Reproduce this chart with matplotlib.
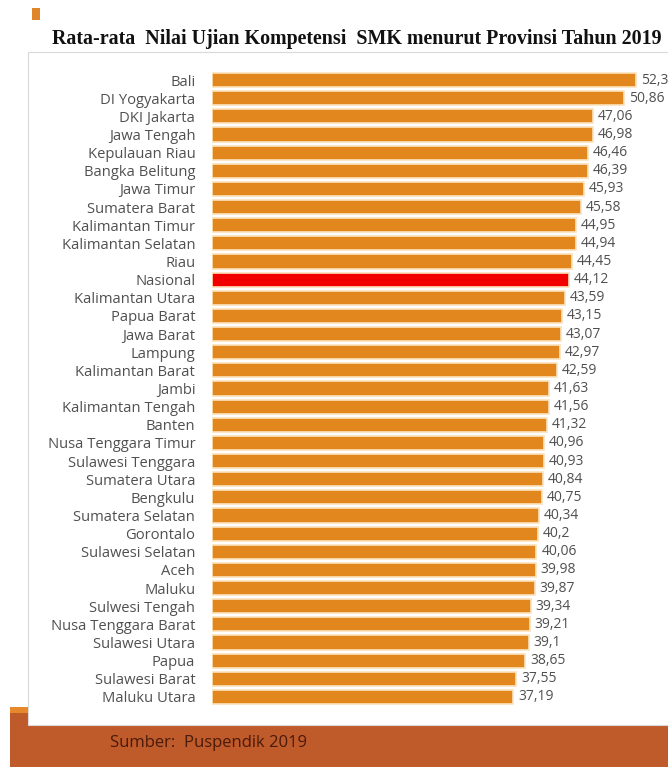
import matplotlib
matplotlib.use("Agg")
import matplotlib.pyplot as plt
from matplotlib.patches import Rectangle

provinces = ["Bali", "DI Yogyakarta", "DKI Jakarta", "Jawa Tengah", "Kepulauan Riau",
             "Bangka Belitung", "Jawa Timur", "Sumatera Barat", "Kalimantan Timur",
             "Kalimantan Selatan", "Riau", "Nasional", "Kalimantan Utara", "Papua Barat",
             "Jawa Barat", "Lampung", "Kalimantan Barat", "Jambi", "Kalimantan Tengah",
             "Banten", "Nusa Tenggara Timur", "Sulawesi Tenggara", "Sumatera Utara",
             "Bengkulu", "Sumatera Selatan", "Gorontalo", "Sulawesi Selatan", "Aceh",
             "Maluku", "Sulwesi Tengah", "Nusa Tenggara Barat", "Sulawesi Utara", "Papua",
             "Sulawesi Barat", "Maluku Utara"]
scores = [52.35, 50.86, 47.06, 46.98, 46.46, 46.39, 45.93, 45.58, 44.95, 44.94, 44.45,
          44.12, 43.59, 43.15, 43.07, 42.97, 42.59, 41.63, 41.56, 41.32, 40.96, 40.93,
          40.84, 40.75, 40.34, 40.2, 40.06, 39.98, 39.87, 39.34, 39.21, 39.1, 38.65,
          37.55, 37.19]
highlight = "Nasional"
title = "Rata-rata  Nilai Ujian Kompetensi  SMK menurut Provinsi Tahun 2019"
source = "Sumber:  Puspendik 2019"

W, H = 668, 767
fig = plt.figure(figsize=(W / 100, H / 100), dpi=100)
fig.patch.set_facecolor("white")

def fx(px):
    return px / W

def fy(py):
    return 1 - py / H

# bottom band
fig.patches.append(Rectangle((fx(10), 0), 1, fy(707), transform=fig.transFigure,
                             facecolor="#BF5A2B", edgecolor="none", zorder=0))
fig.patches.append(Rectangle((fx(10), fy(713)), 1, fy(707) - fy(713), transform=fig.transFigure,
                             facecolor="#E8882C", edgecolor="none", zorder=0))
# white panel
fig.patches.append(Rectangle((fx(28), fy(725)), 1, fy(52) - fy(725), transform=fig.transFigure,
                             facecolor="white", edgecolor="#D9D9D9", linewidth=0.8, zorder=1))
# small square
fig.patches.append(Rectangle((fx(32), fy(20)), fx(8), fy(8) - fy(20), transform=fig.transFigure,
                             facecolor="#E0862A", edgecolor="none", zorder=1))

fig.text(fx(357), fy(39), title, ha="center", va="center", fontsize=14.4,
         fontweight="bold", family="Liberation Serif", color="#111111", zorder=3)
fig.text(fx(110), fy(743), source, ha="left", va="center", fontsize=12,
         family="Open Sans", fontweight="medium", color="#4A1A0A", zorder=3)

x0 = 212
ppu = 8.1
top_c, bot_c = 80, 697
step = (bot_c - top_c) / (len(provinces) - 1)
ax_top = top_c - step / 2
ax_bot = bot_c + step / 2
ax = fig.add_axes([fx(x0), fy(ax_bot), 1 - fx(x0), fy(ax_top) - fy(ax_bot)], zorder=2)
ax.patch.set_alpha(0)
ax.set_xlim(0, (W - x0) / ppu)
ax.set_ylim(len(provinces) - 0.5, -0.5)

ypos = list(range(len(provinces)))
colors = ["#F00000" if p == highlight else "#E2861E" for p in provinces]
ax.barh(ypos, scores, height=0.78, color=colors, edgecolor="#FBE3BC", linewidth=1.2)
for y, v in zip(ypos, scores):
    ax.text(v + 0.6, y, f"{v:g}".replace(".", ","), ha="left", va="center",
            fontsize=10, family="Open Sans", color="#505050", clip_on=False)

ax.set_yticks(ypos)
ax.set_yticklabels(provinces, fontsize=10.6, family="Open Sans", color="#505050")
ax.tick_params(axis="y", length=0, pad=12)
ax.set_xticks([])
for s in ax.spines.values():
    s.set_visible(False)

fig.savefig("out.png", dpi=100)
